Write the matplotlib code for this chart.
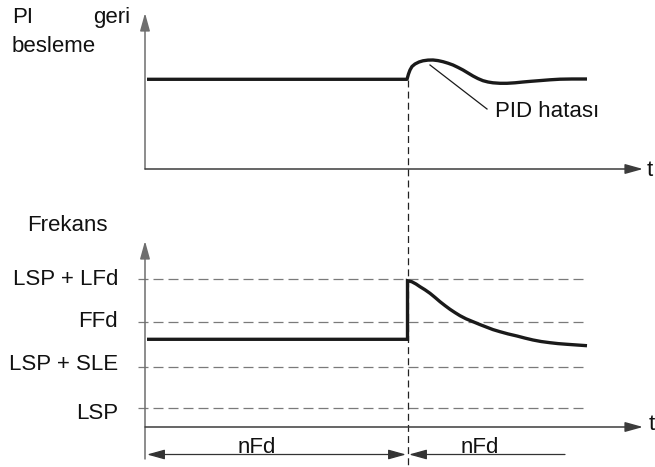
"""Timing diagram: PI feedback and output frequency around a wake-up event.

Everything is drawn on one axes in pixel units (x right, y down) so the
schematic lines up with the reference picture.
"""

import matplotlib
matplotlib.use("Agg")
import matplotlib.pyplot as plt

plt.rcParams["font.family"] = ["Liberation Sans", "DejaVu Sans"]
plt.rcParams["lines.scale_dashes"] = False

W, H = 655, 467

# top trace: PI feedback
fb_x = [147, 407, 408.5, 410, 412, 415, 419, 423, 428, 433, 438, 443,
        448, 453, 458, 463, 468, 473, 478, 483, 488, 493, 500, 507, 515,
        523, 531, 540, 550, 560, 572, 587]
fb_y = [79.3, 79.3, 74, 70, 66.5, 64, 62, 60.8, 60.1, 60, 60.6, 61.7,
        63.2, 65, 67.4, 70, 73, 76, 78.6, 80.7, 82, 82.8, 83.3, 83.3, 82.8,
        82, 81.3, 80.6, 79.8, 79.2, 79, 79]

# bottom trace: output frequency
fr_x = [147, 407.5, 407.5, 411.7, 416, 420, 425, 430, 435, 440, 445, 450,
        455, 460, 466, 473, 480, 487, 493, 500, 508, 517, 525, 533, 541,
        550, 558, 567, 577, 587]
fr_y = [339.3, 339.3, 280.7, 281.7, 284, 286.7, 289.8, 293.3, 297.4, 301.7,
        305.6, 309.3, 312.6, 315.7, 318.8, 321.7, 324.6, 327.3, 329.6, 331.7,
        333.9, 336, 338.1, 340, 341.5, 342.7, 343.6, 344.3, 345, 345.7]

# frequency levels and their labels
level_names = ["LSP + LFd", "FFd", "LSP + SLE", "LSP"]
level_y = [279.3, 321.7, 367, 407.7]
level_end = [588, 588, 583, 588]
label_base = [285, 326.7, 370, 419]

t_wake = 407.5
FS = 16
AX_C = "#6e6e6e"

fig = plt.figure(figsize=(W / 100, H / 100), dpi=100)
ax = fig.add_axes([0, 0, 1, 1])
ax.set_xlim(0, W)
ax.set_ylim(H, 0)
ax.axis("off")


def arrow(x0, y0, x1, y1, style="-|>", lw=1.1, color=AX_C):
    ax.annotate("", xy=(x1, y1), xytext=(x0, y0),
                arrowprops=dict(arrowstyle=style + ",head_length=0.9,head_width=0.25",
                                lw=lw, color=color, shrinkA=0, shrinkB=0,
                                mutation_scale=12))


# axes of both panels
arrow(145, 169, 145, 13)
arrow(145, 169, 643, 169, color="#3c3c3c")
arrow(145, 459, 145, 241)
arrow(145, 427, 643, 427, color="#3c3c3c")

# level lines
for y, x_end in zip(level_y, level_end):
    ax.plot([138, x_end], [y, y], color="#7a7a7a", lw=0.9, dashes=(7.2, 3.6))

# wake-up instant
ax.plot([t_wake, t_wake], [80, 466], color="#222222", lw=0.9,
        dashes=(5, 3))

# traces
ax.plot(fb_x, fb_y, color="#1a1a1a", lw=2.4, solid_capstyle="butt",
        solid_joinstyle="round")
ax.plot(fr_x, fr_y, color="#1a1a1a", lw=2.4, solid_capstyle="butt",
        solid_joinstyle="miter")

# PID error leader line
ax.plot([430, 487], [65, 109], color="#1a1a1a", lw=0.9)

# nFd dimension arrows
arrow(147, 454.5, 406, 454.5, style="<|-|>", lw=0.9, color="#333333")
arrow(565, 454.5, 409, 454.5, style="-|>", lw=0.9, color="#333333")

txt = dict(fontsize=FS, va="baseline", color="#111111")
ax.text(12, 23, "PI", ha="left", **txt)
ax.text(130, 23, "geri", ha="right", **txt)
ax.text(12, 52, "besleme", ha="left", **txt)
ax.text(27, 231, "Frekans", ha="left", **txt)
ax.text(495, 117, "PID hatası", ha="left", **txt)
ax.text(647, 176, "t", ha="left", **txt)
ax.text(649, 430, "t", ha="left", **txt)
for name, yb in zip(level_names, label_base):
    ax.text(118, yb, name, ha="right", **txt)
ax.text(257, 453, "nFd", ha="center", **txt)
ax.text(480, 453, "nFd", ha="center", **txt)

fig.savefig("out.png", dpi=100)
